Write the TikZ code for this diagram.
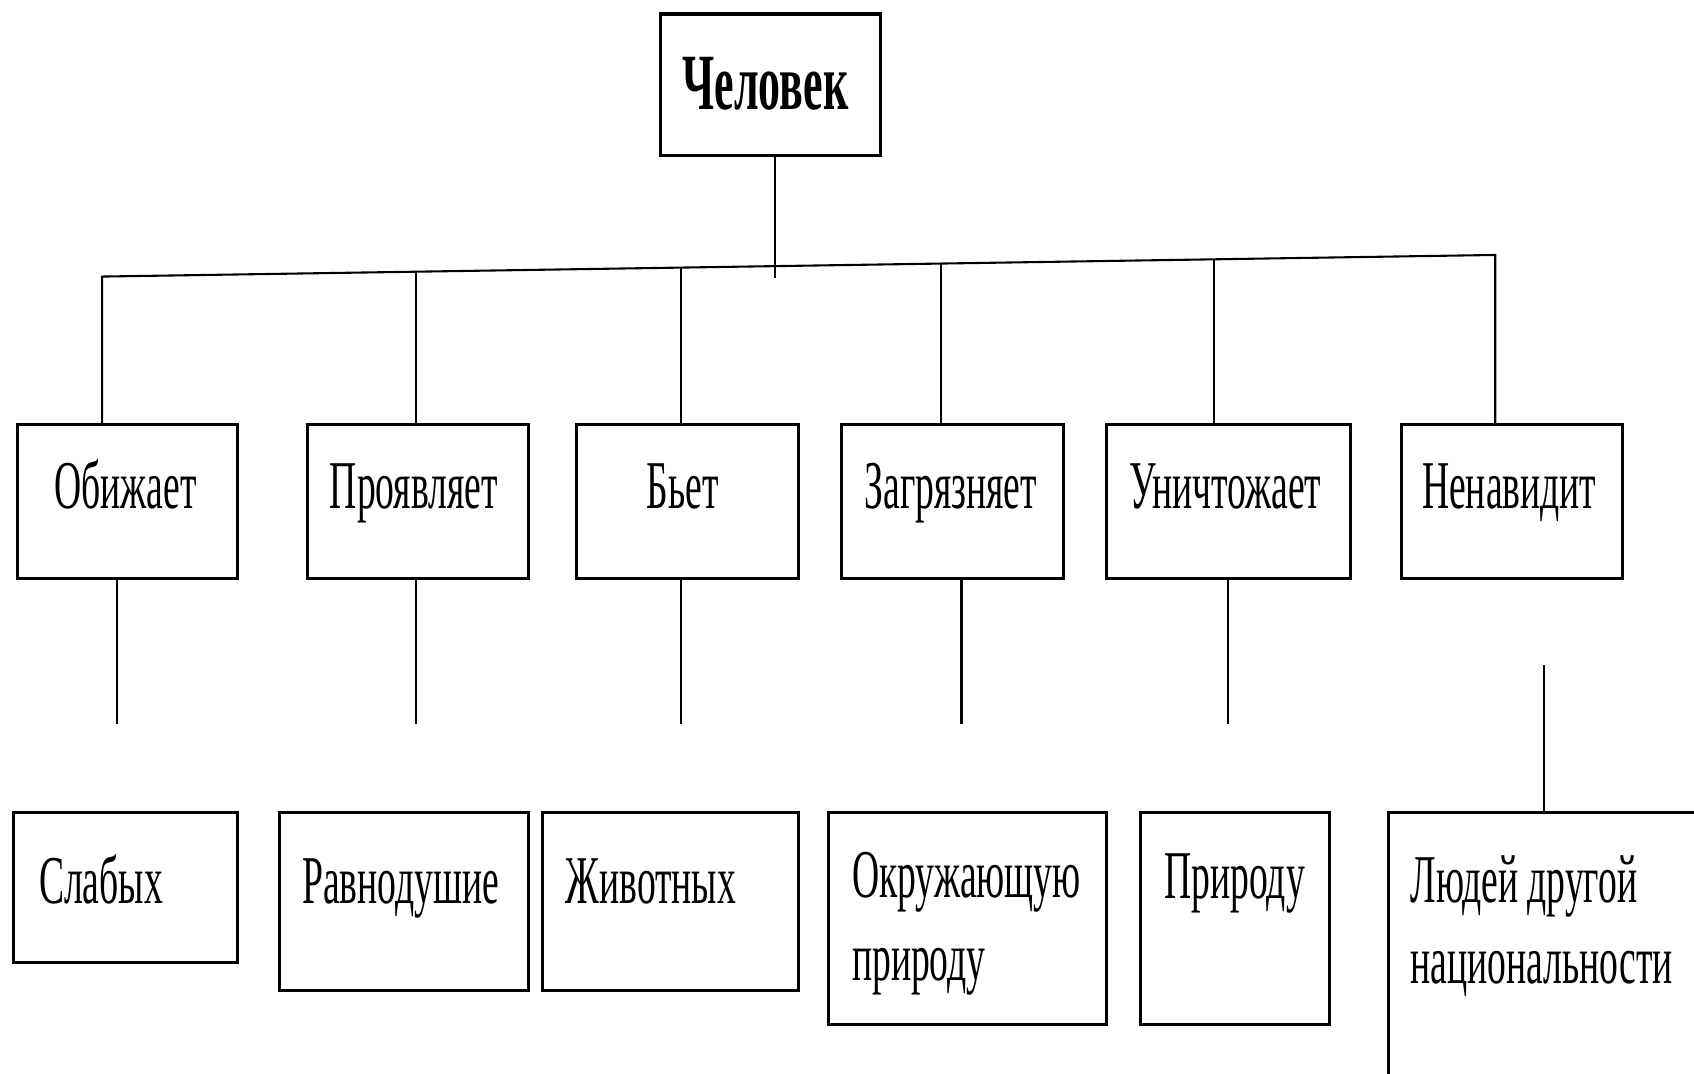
\documentclass[tikz,border=0pt]{standalone}
\usepackage{fontspec}
\setmainfont{Liberation Serif}[FakeStretch=0.55]
\begin{document}
\begin{tikzpicture}[x=0.01cm,y=-0.01cm,
  box/.style={draw, line width=0.8pt, inner sep=0pt, rectangle},
  lbl/.style={inner sep=0pt, font=\fontsize{18}{22}\selectfont},
  ttl/.style={inner sep=0pt, font=\fontsize{21}{25}\selectfont\bfseries},
  conn/.style={line width=0.55pt}]
\useasboundingbox (0,0) rectangle (1568,994);
\clip (0,0) rectangle (1568,994);
% top box
\node[box, minimum width=2.04cm, minimum height=1.31cm] (ch) at (713,78.5) {};
\node[ttl, anchor=base] (tch) at (708.5,101.6) {Человек};
% first row
\node[box, minimum width=2.04cm, minimum height=1.42cm] (ob) at (118,464) {};
\node[box, minimum width=2.04cm, minimum height=1.42cm] (pr) at (387,464) {};
\node[box, minimum width=2.05cm, minimum height=1.42cm] (bt) at (636.5,464) {};
\node[box, minimum width=2.05cm, minimum height=1.42cm] (zg) at (881.5,464) {};
\node[box, minimum width=2.26cm, minimum height=1.42cm] (un) at (1137,464) {};
\node[box, minimum width=2.05cm, minimum height=1.42cm] (nn) at (1399.5,464) {};
\node[lbl, anchor=base] (tob) at (116,470.5) {Обижает};
\node[lbl, anchor=base] (tpr) at (383,470.5) {Проявляет};
\node[lbl, anchor=base] (tbt) at (632,470.5) {Бьет};
\node[lbl, anchor=base] (tzg) at (880,470.5) {Загрязняет};
\node[lbl, anchor=base] (tun) at (1134,470.5) {Уничтожает};
\node[lbl, anchor=base] (tnn) at (1397,470.5) {Ненавидит};
% second row
\node[box, minimum width=2.07cm, minimum height=1.39cm] (sl) at (116.5,821.5) {};
\node[box, minimum width=2.30cm, minimum height=1.65cm] (rv) at (374,834.5) {};
\node[box, minimum width=2.37cm, minimum height=1.65cm] (zh) at (620.5,834.5) {};
\node[box, minimum width=2.57cm, minimum height=1.96cm] (ok) at (895.5,850) {};
\node[box, minimum width=1.75cm, minimum height=1.96cm] (pd) at (1143.5,850) {};
\node[box, minimum width=3.15cm, minimum height=2.68cm] (lj) at (1442.5,886) {};
\node[lbl, anchor=base west] (tsl) at (35.5,836) {Слабых};
\node[lbl, anchor=base west] (trv) at (279,836) {Равнодушие};
\node[lbl, anchor=base west] (tzh) at (523,836) {Животных};
\node[lbl, anchor=base west] (tok1) at (788,831) {Окружающую};
\node[lbl, anchor=base west] (tok2) at (788,908) {природу};
\node[lbl, anchor=base west] (tpd) at (1077,832) {Природу};
\node[lbl, anchor=base west] (tlj1) at (1305,835) {Людей другой};
\node[lbl, anchor=base west] (tlj2) at (1305,910) {национальности};
% junction coordinates on the slanted bar
\coordinate (jo) at (94.5,256);
\coordinate (jp) at (385,251.5);
\coordinate (jb) at (630,247.7);
\coordinate (jc) at (717,257);
\coordinate (jz) at (871,243.9);
\coordinate (ju) at (1124,240);
\coordinate (jn) at (1384,236);
\draw[conn] (jo |- ob.north) -- (jo) -- (jn) -- (jn |- nn.north);
\draw[conn] (jc |- ch.south) -- (jc);
\draw[conn] (jp) -- (jp |- pr.north);
\draw[conn] (jb) -- (jb |- bt.north);
\draw[conn] (jz) -- (jz |- zg.north);
\draw[conn] (ju) -- (ju |- un.north);
% lower connectors
\coordinate (lo) at (108,670);
\coordinate (lp) at (385,670);
\coordinate (lb) at (630,670);
\coordinate (lz) at (890,670);
\coordinate (lu) at (1137,670);
\coordinate (ln) at (1429,616);
\draw[conn] (lo |- ob.south) -- (lo);
\draw[conn] (lp |- pr.south) -- (lp);
\draw[conn] (lb |- bt.south) -- (lb);
\draw[conn] (lz |- zg.south) -- (lz);
\draw[conn] (lu |- un.south) -- (lu);
\draw[conn] (ln) -- (ln |- lj.north);
\end{tikzpicture}
\end{document}
